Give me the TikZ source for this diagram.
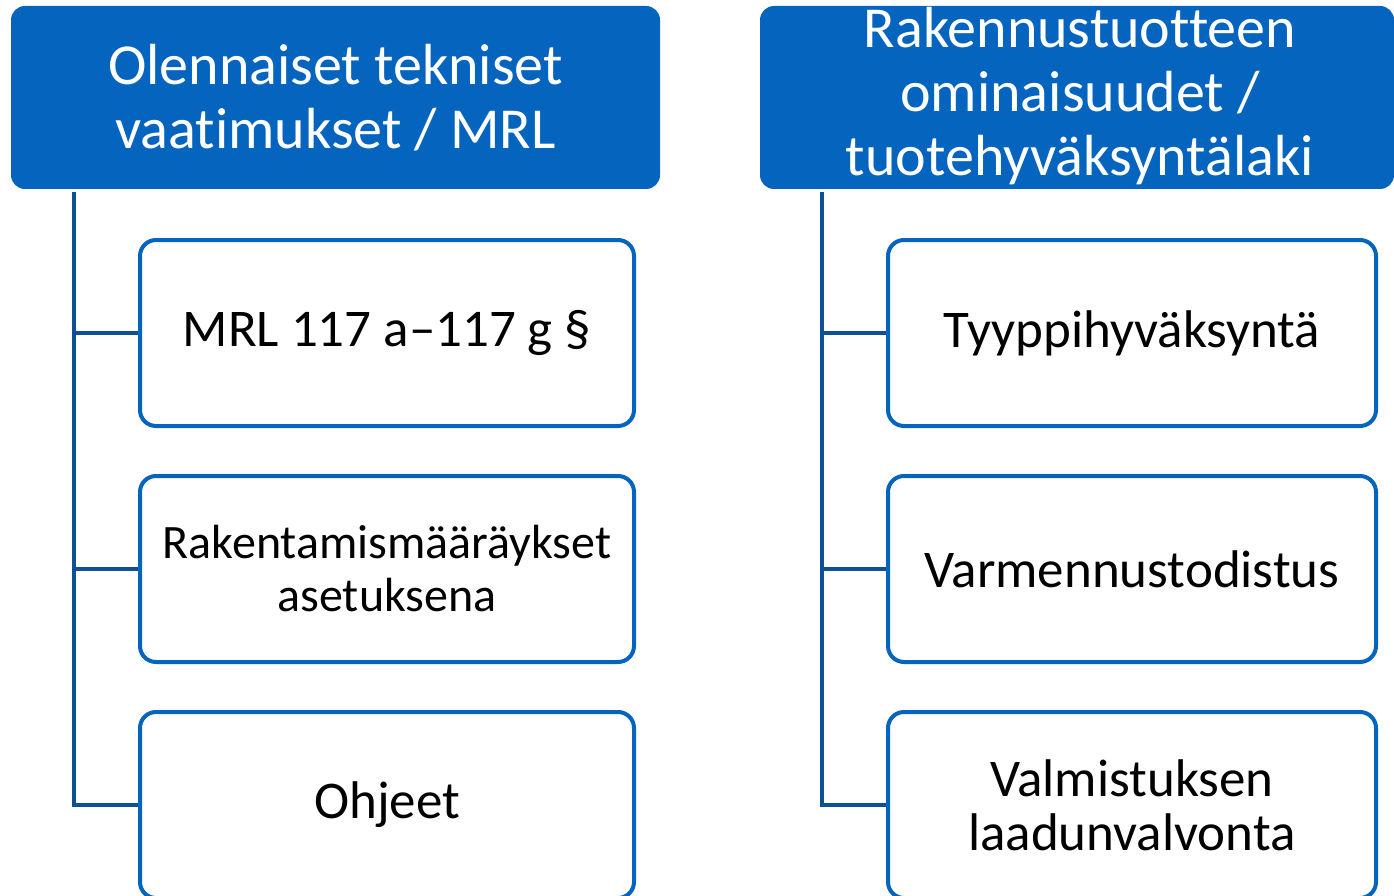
\documentclass[tikz,border=0pt]{standalone}
\usepackage{fontspec}
\setmainfont{Carlito}[Ligatures=NoCommon]
\definecolor{hdrblue}{RGB}{5,100,190}
\definecolor{boxblue}{RGB}{5,100,190}
\definecolor{linkblue}{RGB}{14,80,152}
\begin{document}
\begin{tikzpicture}[x=1pt,y=-1pt,
 hdr/.style={fill=hdrblue, rounded corners=14pt, minimum height=183pt, inner sep=0pt},
 hdrtext/.style={text=white, align=center, font=\fontsize{58}{64}\selectfont, inner sep=0pt},
 item/.style={draw=boxblue, line width=4pt, fill=white, rounded corners=16pt, minimum height=186pt, inner sep=0pt, align=center, font=\fontsize{53}{54}\selectfont},
 conn/.style={draw=linkblue, line width=4pt}]
\useasboundingbox (0,0) rectangle (1394,896);
\clip (0,0) rectangle (1394,896);
% headers
\node[hdr, minimum width=649pt] (hl) at (335.5,97.5) {};
\node[hdrtext] (hlt) at (hl.center) {Olennaiset tekniset\\vaatimukset / MRL};
\node[hdr, minimum width=634pt] (hr) at (1077,97.5) {};
\node[hdrtext] (hrt) at (1080,96) {Rakennustuotteen\\ominaisuudet /\\tuotehyväksyntälaki};
% left items
\node[item, minimum width=494pt] (l1) at (387,333) {MRL 117 a–117 g §};
\node[item, minimum width=494pt, font=\fontsize{48}{53}\selectfont] (l2) at (387,569) {Rakentamismääräykset\\asetuksena};
\node[item, minimum width=494pt] (l3) at (387,805) {Ohjeet};
% right items
\node[item, minimum width=488pt] (r1) at (1132,333) {Tyyppihyväksyntä};
\node[item, minimum width=488pt] (r2) at (1132,569) {Varmennustodistus};
\node[item, minimum width=488pt] (r3) at (1132,805) {Valmistuksen\\laadunvalvonta};
% connectors
\coordinate (lt) at (74,192);
\coordinate (rt) at (822,192);
\draw[conn] (lt) |- (l3.west);
\draw[conn] (lt |- l1.west) -- (l1.west);
\draw[conn] (lt |- l2.west) -- (l2.west);
\draw[conn] (rt) |- (r3.west);
\draw[conn] (rt |- r1.west) -- (r1.west);
\draw[conn] (rt |- r2.west) -- (r2.west);
\end{tikzpicture}
\end{document}
